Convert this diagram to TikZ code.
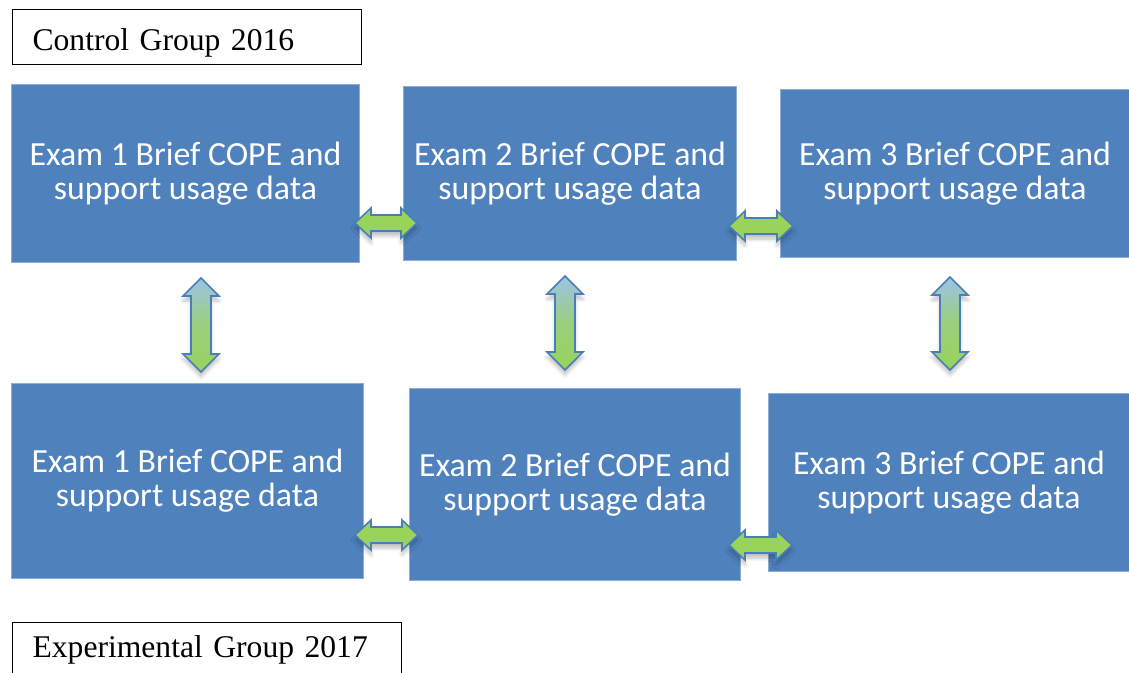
\documentclass[tikz,border=0pt]{standalone}
\usepackage{fontspec}
\setmainfont{Liberation Serif}
\newfontfamily\boxfont{Carlito}
\usetikzlibrary{calc, shadows.blur}

\definecolor{boxblue}{HTML}{4F81BD}
\definecolor{arrowgreen}{HTML}{98D35A}
\definecolor{arrowsky}{HTML}{9DC3E6}
\definecolor{arrowedge}{HTML}{4A7EBB}

% block double arrow, left end -> right end
\newcommand{\hpair}[2]{%
  \filldraw[harrow] let \p1=(#1), \p2=(#2) in
    (\x1,\y1) -- (\x1+8pt,\y1+7.5pt) -- (\x1+8pt,\y1+4pt) -- (\x2-8pt,\y1+4pt)
    -- (\x2-8pt,\y1+7.5pt) -- (\x2,\y1) -- (\x2-8pt,\y1-7.5pt) -- (\x2-8pt,\y1-4pt)
    -- (\x1+8pt,\y1-4pt) -- (\x1+8pt,\y1-7.5pt) -- cycle;}
% block double arrow, top end -> bottom end
\newcommand{\vpair}[2]{%
  \filldraw[varrow] let \p1=(#1), \p2=(#2) in
    (\x1,\y1) -- (\x1+9pt,\y1-9pt) -- (\x1+5pt,\y1-9pt) -- (\x1+5pt,\y2+9pt)
    -- (\x1+9pt,\y2+9pt) -- (\x1,\y2) -- (\x1-9pt,\y2+9pt) -- (\x1-5pt,\y2+9pt)
    -- (\x1-5pt,\y1-9pt) -- (\x1-9pt,\y1-9pt) -- cycle;}

\begin{document}
\begin{tikzpicture}[
    x=0.5pt, y=-0.5pt,
    box/.style={rectangle, anchor=north west, fill=boxblue, draw=boxblue!65!white, line width=0.5pt,
        text=white, align=center, font=\boxfont\fontsize{16.9}{17}\selectfont},
    group/.style={rectangle, anchor=north west, draw=black, line width=0.6pt, inner xsep=10pt,
        minimum height=27.5pt, align=left, font=\fontsize{15.8}{19}\selectfont},
    arrowbase/.style={draw=arrowedge, line width=0.8pt, line join=miter,
        blur shadow={shadow xshift=0pt, shadow yshift=-2.5pt, shadow opacity=25, shadow blur steps=6}},
    harrow/.style={arrowbase, fill=arrowgreen},
    varrow/.style={arrowbase, top color=arrowsky, bottom color=arrowgreen, middle color=arrowgreen!75!arrowsky},
]
\useasboundingbox (0,0) rectangle (1129,673);

% === Group labels ===
\node (ctl) [group, text width=154.5pt, text height=14pt, text depth=0.5pt] at (12,9) {Control Group 2016};
\node (exp) [group, text width=174.5pt] at (12,622) {Experimental Group 2017};

% === Control group exams ===
\node (t1) [box, minimum width=174pt, minimum height=89pt] at (11,84) {Exam 1 Brief COPE and\\support usage data};
\node (t2) [box, minimum width=166.5pt, minimum height=87pt] at (403,86) {Exam 2 Brief COPE and\\support usage data};
\node (t3) [box, minimum width=174.5pt, minimum height=84pt] at (780,89) {Exam 3 Brief COPE and\\support usage data};

% === Experimental group exams ===
\node (b1) [box, minimum width=176pt, minimum height=97.5pt] at (11,383) {Exam 1 Brief COPE and\\support usage data};
\node (b2) [box, minimum width=165.5pt, minimum height=96pt] at (409,388) {Exam 2 Brief COPE and\\support usage data};
\node (b3) [box, minimum width=180.5pt, minimum height=89pt] at (768,393) {Exam 3 Brief COPE and\\support usage data};

% === Arrow ends ===
\coordinate (h1a) at ($(t1.east |- 0,223)+(-5,0)$);
\coordinate (h1b) at ($(t2.west |- 0,223)+(14,0)$);
\coordinate (h2a) at ($(t2.east |- 0,226)+(-8,0)$);
\coordinate (h2b) at ($(t3.west |- 0,226)+(13,0)$);
\coordinate (h3a) at ($(b1.east |- 0,535)+(-9,0)$);
\coordinate (h3b) at ($(b2.west |- 0,535)+(9,0)$);
\coordinate (h4a) at ($(b2.east |- 0,545)+(-12,0)$);
\coordinate (h4b) at ($(b3.west |- 0,545)+(24,0)$);
\coordinate (v1a) at ($(t1.south -| 201,0)+(0,15)$);
\coordinate (v1b) at ($(b1.north -| 201,0)+(0,-11)$);
\coordinate (v2a) at ($(t2.south -| 565,0)+(0,15)$);
\coordinate (v2b) at ($(b2.north -| 565,0)+(0,-18)$);
\coordinate (v3a) at ($(t3.south -| 950,0)+(0,19)$);
\coordinate (v3b) at ($(b3.north -| 950,0)+(0,-23)$);

% === Links between exams ===
\hpair{h1a}{h1b}
\hpair{h2a}{h2b}
\hpair{h3a}{h3b}
\hpair{h4a}{h4b}
\vpair{v1a}{v1b}
\vpair{v2a}{v2b}
\vpair{v3a}{v3b}

\end{tikzpicture}
\end{document}
